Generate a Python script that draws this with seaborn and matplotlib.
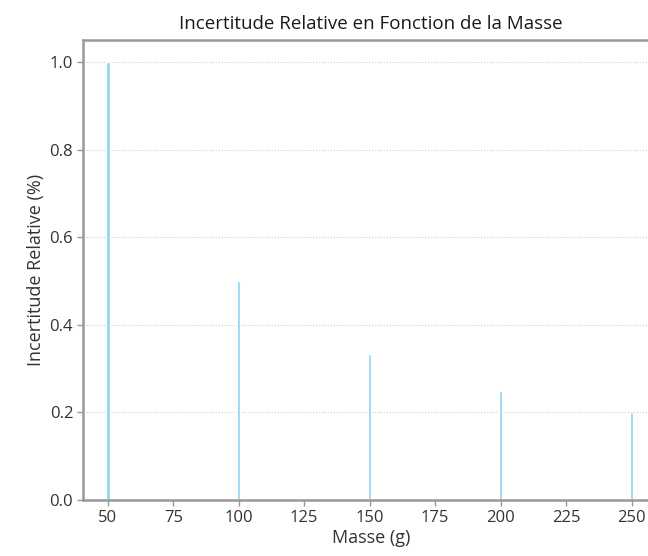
import pandas as pd
import seaborn as sns
import matplotlib.pyplot as plt

# Data
masses = [50, 100, 150, 200, 250]
incertitude = [1.0, 0.5, 0.3333, 0.25, 0.2]

df = pd.DataFrame({"Masse": masses, "Incertitude": incertitude})

sns.set_style("white")
plt.rcParams["font.family"] = ["Open Sans", "DejaVu Sans"]

fig = plt.figure(figsize=(6.48, 5.56), dpi=100)
ax = fig.add_axes([0.128, 0.1007, 0.889, 0.827])

sns.barplot(data=df, x="Masse", y="Incertitude", native_scale=True,
            width=0.026, color="#8fd3f3", saturation=1, ax=ax)

ax.set_xlim(40.5, 260.5)
ax.set_ylim(0, 1.05)
ax.set_xticks([50, 75, 100, 125, 150, 175, 200, 225, 250])
ax.set_yticks([0.0, 0.2, 0.4, 0.6, 0.8, 1.0])

ax.yaxis.grid(True, linestyle=":", color="#cccccc", linewidth=0.8)
ax.set_axisbelow(True)

for s in ax.spines.values():
    s.set_color("#999999")
    s.set_linewidth(1.8)

ax.tick_params(axis="both", labelcolor="#333333", labelsize=12, length=4,
               width=1, color="#999999", direction="out", bottom=True, left=True, pad=3)

ax.set_title("Incertitude Relative en Fonction de la Masse", fontsize=13.5, pad=8, color="#1a1a1a")
ax.set_xlabel("Masse (g)", fontsize=13, color="#333333", labelpad=2)
ax.set_ylabel("Incertitude Relative (%)", fontsize=13, color="#333333", labelpad=3)

fig.savefig("out.png", dpi=100)
